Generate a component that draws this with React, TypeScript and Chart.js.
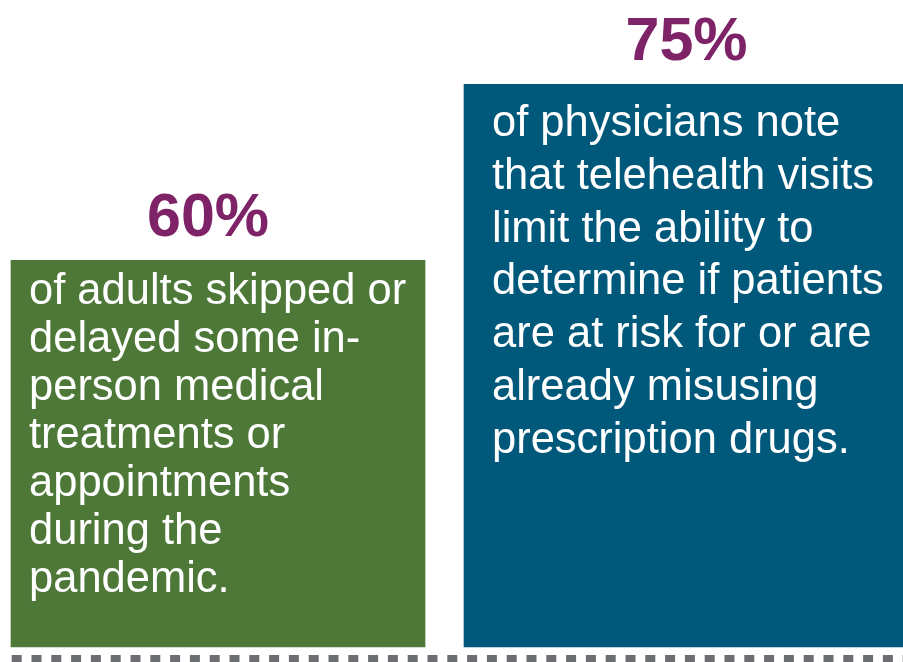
import React, { useEffect, useRef } from "react";
import { Chart, registerables } from "chart.js";

Chart.register(...registerables);

const categories = ["Adults", "Physicians"];
const adultValues = [60, null];
const physicianValues = [null, 75];
const valueLabels = ["60%", "75%"];
const adultLines = [
  "of adults skipped or",
  "delayed some in-",
  "person medical",
  "treatments or",
  "appointments",
  "during the",
  "pandemic.",
];
const physicianLines = [
  "of physicians note",
  "that telehealth visits",
  "limit the ability to",
  "determine if patients",
  "are at risk for or are",
  "already misusing",
  "prescription drugs.",
];
const Y_MIN = 27;
const Y_MAX = 82.2;

const GREEN = "#4D7838";
const BLUE = "#00597B";
const PURPLE = "#7F2369";
const DASH = "#6D6E71";
const FONT = "'Liberation Sans', Arial, Helvetica, sans-serif";

const textPlugin = {
  id: "barText",
  afterDatasetsDraw(chart: any) {
    const ctx = chart.ctx;
    const styles = [
      { lines: adultLines, padX: 18, first: 44, lh: 48, dx: -10 },
      { lines: physicianLines, padX: 28, first: 52, lh: 52.7, dx: 3 },
    ];
    chart.data.datasets.forEach((ds: any, di: number) => {
      const meta = chart.getDatasetMeta(di);
      meta.data.forEach((bar: any, i: number) => {
        if (ds.data[i] == null) return;
        const st = styles[i];
        const w = bar.width;
        const left = bar.x - w / 2;
        ctx.save();
        ctx.fillStyle = PURPLE;
        ctx.font = `bold 61px ${FONT}`;
        ctx.textAlign = "center";
        ctx.textBaseline = "alphabetic";
        ctx.fillText(valueLabels[i], bar.x + st.dx, bar.y - 24);
        ctx.fillStyle = "#FFFFFF";
        ctx.font = `43.5px ${FONT}`;
        ctx.textAlign = "left";
        st.lines.forEach((line: string, li: number) => {
          ctx.fillText(line, left + st.padX, bar.y + st.first + li * st.lh);
        });
        ctx.restore();
      });
    });
  },
  afterDraw(chart: any) {
    const ctx = chart.ctx;
    const yBase = chart.scales.y.bottom;
    ctx.save();
    ctx.strokeStyle = DASH;
    ctx.lineWidth = 8;
    ctx.setLineDash([10, 9.8]);
    ctx.beginPath();
    ctx.moveTo(11.7, yBase + 12);
    ctx.lineTo(chart.width, yBase + 12);
    ctx.stroke();
    ctx.restore();
  },
};

export default function App() {
  const ref = useRef<HTMLCanvasElement | null>(null);
  useEffect(() => {
    if (!ref.current) return;
    const chart = new Chart(ref.current, {
      type: "bar",
      data: {
        labels: categories,
        datasets: [
          {
            label: "Adults",
            data: adultValues as any,
            backgroundColor: GREEN,
            barThickness: 414,
            grouped: false,
            base: Y_MIN,
            clip: false as any,
          },
          {
            label: "Physicians",
            data: physicianValues as any,
            backgroundColor: BLUE,
            barThickness: 439,
            grouped: false,
            base: Y_MIN,
            clip: false as any,
          },
        ],
      },
      options: {
        responsive: false,
        animation: false,
        layout: { padding: { left: 218, right: 219.5, top: 0, bottom: 15 } },
        plugins: { legend: { display: false }, tooltip: { enabled: false } },
        scales: {
          x: { display: false, offset: false, grid: { display: false } },
          y: { display: false, min: Y_MIN, max: Y_MAX, grid: { display: false } },
        },
      },
      plugins: [textPlugin],
    });
    return () => chart.destroy();
  }, []);
  return (
    <div style={{ position: "fixed", left: 0, top: 0, width: 903, height: 662, background: "#fff" }}>
      <canvas ref={ref} width={903} height={662} style={{ display: "block" }} />
    </div>
  );
}
